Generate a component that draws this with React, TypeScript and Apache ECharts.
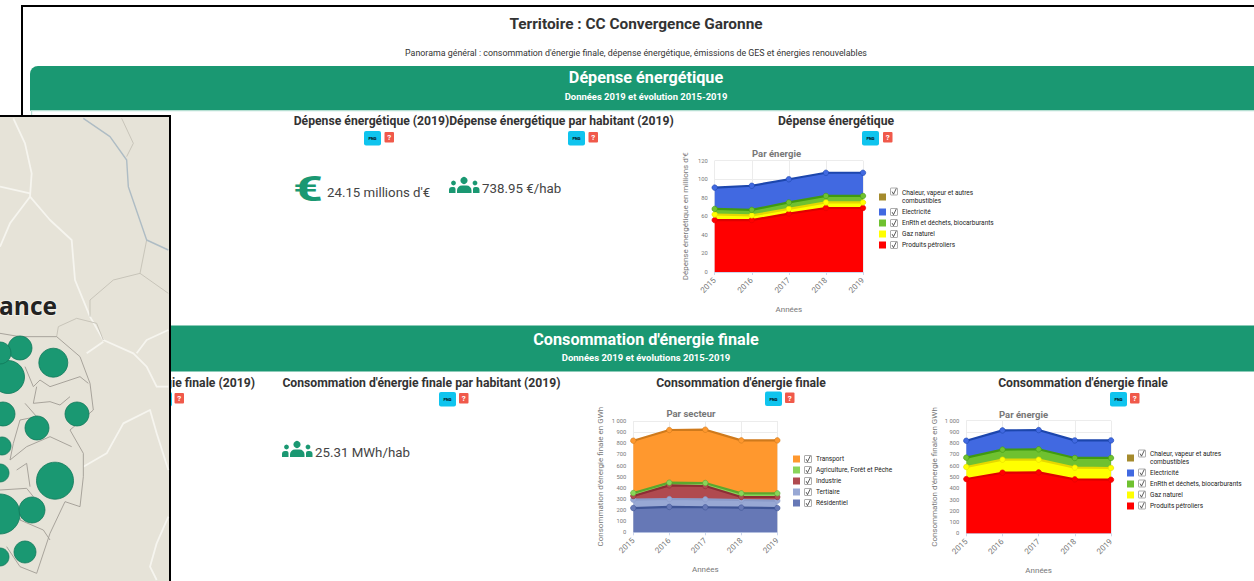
import React, { useEffect, useRef } from "react";
import * as echarts from "echarts";

const years = ["2015", "2016", "2017", "2018", "2019"];
const NAME_HEAT = "Chaleur, vapeur et autres combustibles";
const NAME_ELEC = "Electricité";
const NAME_ENR = "EnRth et déchets, biocarburants";
const NAME_GAS = "Gaz naturel";
const NAME_OIL = "Produits pétroliers";

const costOil = [56, 56, 63, 69, 69];
const costGas = [6, 5, 5, 6, 6];
const costEnr = [6, 6, 7, 7, 7];
const costElec = [23, 26, 25, 25, 25];
const costHeat = [null, null, null, null, null];

const resid = [218, 228, 225, 222, 218];
const tertiary = [75, 71, 71, 68, 66];
const industry = [33, 123, 120, 27, 33];
const agri = [27, 24, 27, 33, 33];
const transport = [470, 473, 479, 476, 476];

const consOil = [482, 538, 541, 479, 476];
const consGas = [107, 116, 113, 104, 104];
const consEnr = [83, 89, 92, 86, 89];
const consElec = [150, 171, 171, 156, 156];
const consHeat = [null, null, null, null, null];

const GREEN = "#1a9872";
const FONT = "Roboto";

const energyPalette: Record<string, [string, string]> = {
  [NAME_OIL]: ["#ff0000", "#e00000"],
  [NAME_GAS]: ["#ffff00", "#e6d800"],
  [NAME_ENR]: ["#6fc130", "#3f9a10"],
  [NAME_ELEC]: ["#4169e1", "#1c46ad"],
  [NAME_HEAT]: ["#a58b2d", "#8a7320"],
};
const sectorPalette: Record<string, [string, string]> = {
  Résidentiel: ["#6678b6", "#3f5596"],
  Tertiaire: ["#98a8d4", "#8b9bc9"],
  Industrie: ["#b04a4f", "#8c2e34"],
  "Agriculture, Forêt et Pêche": ["#8ad45a", "#5ba82e"],
  Transport: ["#ff982e", "#cf7a1c"],
};

function areaSeries(name: string, data: (number | null)[], idx: number, palette: Record<string, [string, string]>) {
  const [fill, line] = palette[name];
  return {
    type: "line",
    name,
    data,
    xAxisIndex: idx,
    yAxisIndex: idx,
    stack: "s" + idx,
    color: fill,
    symbol: "circle",
    symbolSize: 5.5,
    showSymbol: true,
    lineStyle: { color: line, width: 2.2 },
    itemStyle: { color: fill, borderColor: line, borderWidth: 0.6 },
    areaStyle: { color: fill, opacity: 1 },
    emphasis: { disabled: true },
  };
}

const grids = [
  { left: 714.7, top: 160.7, width: 148.3, height: 111.3 },
  { left: 633.3, top: 421, width: 144, height: 111.3 },
  { left: 966.3, top: 420.7, width: 144.7, height: 112.6 },
];

const axisColor = "#777777";

function xAxis(i: number, gap: number) {
  return {
    type: "category",
    gridIndex: i,
    data: years,
    boundaryGap: false,
    name: "Années",
    nameLocation: "middle",
    nameGap: gap,
    nameMoveOverlap: false,
    nameTextStyle: { fontFamily: FONT, fontSize: 8, color: axisColor },
    axisLine: { lineStyle: { color: "#ccd6eb", width: 1 } },
    axisTick: { show: true, length: 3, lineStyle: { color: "#ccd6eb" } },
    axisLabel: { show: true, rotate: 45, fontFamily: FONT, fontSize: 8, color: axisColor, margin: 7 },
    splitLine: { show: true, lineStyle: { color: "#ececec", width: 1 } },
  };
}

function yAxis(i: number, name: string, max: number, interval: number, gap: number) {
  return {
    type: "value",
    gridIndex: i,
    min: 0,
    max,
    interval,
    name,
    nameLocation: "middle",
    nameGap: gap,
    nameRotate: 90,
    nameMoveOverlap: false,
    nameTextStyle: { fontFamily: FONT, fontSize: 8, color: axisColor },
    axisLine: { show: false },
    axisTick: { show: false },
    axisLabel: {
      fontFamily: FONT,
      fontSize: 5.8,
      color: axisColor,
      margin: 7,
      formatter: (v: number) => (v >= 1000 ? "1 000" : String(v)),
    },
    splitLine: { show: true, lineStyle: { color: "#ececec", width: 1 } },
  };
}

function legend(left: number, top: number, names: string[], palette: Record<string, [string, string]>, pad: number) {
  return {
    orient: "vertical",
    left,
    top,
    padding: 0,
    itemWidth: 7,
    itemHeight: 7,
    itemGap: 3,
    icon: "rect",
    selectedMode: false,
    data: names.map((n) => ({ name: n, itemStyle: { color: palette[n][0], borderWidth: 0 } })),
    formatter: (n: string) => (n === NAME_HEAT ? "Chaleur, vapeur et autres\ncombustibles" : n),
    textStyle: { fontFamily: FONT, fontSize: 6.5, lineHeight: 8, color: "#222222", padding: [0, 0, 0, pad] },
  };
}

const chartTitle = (t: string, left: number, top: number) => ({
  text: t,
  left,
  top,
  padding: 0,
  textAlign: "center",
  textStyle: { fontFamily: FONT, fontSize: 9.5, fontWeight: "bold", color: "#777777" },
});

const text = (t: string, x: number, y: number, font: string, fill: string, align = "center", extra: any = {}) => ({
  type: "text",
  x,
  y,
  silent: true,
  style: { text: t, font, fill, textAlign: align, textVerticalAlign: "middle", ...extra },
});

const rect = (x: number, y: number, w: number, h: number, fill: string, r: any = 0, stroke?: string, lw = 0) => ({
  type: "rect",
  silent: true,
  shape: { x, y, width: w, height: h, r },
  style: { fill, stroke, lineWidth: lw },
});

const buttons = (cx: number, cy: number, rx: number) => [
  rect(cx, cy, 17, 14.5, "#0fc4ee", 2),
  text("PNG", cx + 8.5, cy + 7.5, "bold 4px " + FONT, "#000000"),
  rect(rx, cy + 1, 9.5, 10.5, "#f0594a", 1),
  text("?", rx + 4.75, cy + 6.5, "bold 8px " + FONT, "#ffffff"),
];

const people = (x: number, y: number) => [
  { type: "circle", silent: true, shape: { cx: x + 15, cy: y + 3.5, r: 3.6 }, style: { fill: GREEN } },
  { type: "circle", silent: true, shape: { cx: x + 4.5, cy: y + 6, r: 2.4 }, style: { fill: GREEN } },
  { type: "circle", silent: true, shape: { cx: x + 26, cy: y + 6, r: 2.4 }, style: { fill: GREEN } },
  rect(x + 8, y + 8.5, 14.5, 7.5, GREEN, [5, 5, 0, 0]),
  rect(x, y + 10, 6.5, 6, GREEN, [3, 2, 0, 0]),
  rect(x + 24, y + 10, 6.5, 6, GREEN, [2, 3, 0, 0]),
];

const checkbox = (x: number, y: number) => [
  rect(x, y, 7, 7, "#ffffff", 0.5, "#8a8a8a", 0.7),
  {
    type: "polyline",
    silent: true,
    shape: { points: [[x + 1.6, y + 3.6], [x + 3, y + 6.2], [x + 5.8, y + 0.4]] },
    style: { fill: "none", stroke: "#333333", lineWidth: 0.8 },
  },
];

// Background map: coordinates measured on the picture, scaled from a 3x crop.
const m = (pts: number[][]) => pts.map(([a, b]) => [a / 3, b / 3 + 100]);
const line = (pts: number[][], stroke: string, lw: number) => ({
  type: "polyline",
  silent: true,
  shape: { points: m(pts) },
  style: { fill: "none", stroke, lineWidth: lw, lineJoin: "round" },
});
const roads = [
  [[40, 55], [75, 130], [95, 220], [90, 290], [150, 360], [215, 420], [225, 540], [270, 650], [310, 720], [400, 760], [440, 800], [470, 860], [505, 860]],
  [[90, 290], [30, 370], [0, 440]],
  [[0, 260], [90, 280]],
  [[260, 760], [310, 725]],
  [[505, 690], [440, 720], [410, 760]],
  [[250, 1100], [320, 1060], [370, 970], [450, 930], [470, 1000], [505, 1110]],
  [[505, 1250], [470, 1330], [450, 1400], [470, 1440]],
];
const cantonBorders = [
  [[0, 700], [60, 710], [170, 710]],
  [[170, 710], [240, 770], [270, 850], [280, 930], [210, 990], [250, 1060], [250, 1130], [240, 1220], [195, 1205], [150, 1300], [110, 1420], [60, 1400], [20, 1340]],
  [[75, 800], [100, 860], [120, 840], [150, 860], [240, 830], [265, 850]],
  [[110, 860], [100, 910], [150, 905], [180, 915], [210, 890]],
  [[75, 910], [110, 950], [60, 960], [40, 1030], [30, 1080], [80, 1040], [150, 1010], [215, 1040]],
  [[0, 1170], [80, 1165], [100, 1190], [60, 1260], [130, 1290], [150, 1320]],
  [[50, 1110], [80, 1090], [90, 1160]],
];
const faintBorders = [
  [[170, 710], [175, 680], [230, 655], [290, 670], [310, 720]],
  [[420, 520], [340, 540], [270, 600], [270, 650]],
  [[420, 520], [505, 580]],
  [[440, 420], [420, 520]],
  [[365, 55], [400, 130], [380, 170]],
];
const river = [[250, 55], [330, 110], [380, 180], [385, 260], [440, 420], [505, 450]];
const towns: [number, number, number][] = [
  [20, 348, 12], [53.3, 362.7, 14.5], [8, 377, 16.5], [0, 353, 11], [3, 414, 12], [77, 414, 12],
  [37, 428, 12], [2, 446, 9], [0, 473, 9], [55, 480.7, 18.5], [0, 514, 20], [32, 510, 13],
  [25, 552, 11], [0, 557, 9],
];

const legendBoxes = (x: number, ys: number[]) => ys.flatMap((y) => checkbox(x, y));

export default function App() {
  const ref = useRef<HTMLDivElement>(null);
  useEffect(() => {
    document.body.style.margin = "0";
    document.body.style.background = "#ffffff";
    const chart = echarts.init(ref.current!, null, { renderer: "svg" });
    const energyNames = [NAME_HEAT, NAME_ELEC, NAME_ENR, NAME_GAS, NAME_OIL];
    const sectorNames = ["Transport", "Agriculture, Forêt et Pêche", "Industrie", "Tertiaire", "Résidentiel"];
    chart.setOption({
      animation: false,
      backgroundColor: "#ffffff",
      tooltip: { show: false },
      title: [chartTitle("Par énergie", 776.5, 148), chartTitle("Par secteur", 691, 408), chartTitle("Par énergie", 1023.5, 409)],
      grid: grids,
      xAxis: [xAxis(0, 33), xAxis(1, 33), xAxis(2, 33)],
      yAxis: [
        yAxis(0, "Dépense énergétique en millions d'€", 120, 20, 25),
        yAxis(1, "Consommation d'énergie finale en GWh", 1000, 100, 29),
        yAxis(2, "Consommation d'énergie finale en GWh", 1000, 100, 28),
      ],
      legend: [
        legend(879, 189, energyNames, energyPalette, 11),
        legend(793, 455, sectorNames, sectorPalette, 11),
        legend(1127, 450, energyNames, energyPalette, 11),
      ],
      series: [
        areaSeries(NAME_OIL, costOil, 0, energyPalette),
        areaSeries(NAME_GAS, costGas, 0, energyPalette),
        areaSeries(NAME_ENR, costEnr, 0, energyPalette),
        areaSeries(NAME_ELEC, costElec, 0, energyPalette),
        areaSeries(NAME_HEAT, costHeat, 0, energyPalette),
        areaSeries("Résidentiel", resid, 1, sectorPalette),
        areaSeries("Tertiaire", tertiary, 1, sectorPalette),
        areaSeries("Industrie", industry, 1, sectorPalette),
        areaSeries("Agriculture, Forêt et Pêche", agri, 1, sectorPalette),
        areaSeries("Transport", transport, 1, sectorPalette),
        areaSeries(NAME_OIL, consOil, 2, energyPalette),
        areaSeries(NAME_GAS, consGas, 2, energyPalette),
        areaSeries(NAME_ENR, consEnr, 2, energyPalette),
        areaSeries(NAME_ELEC, consElec, 2, energyPalette),
        areaSeries(NAME_HEAT, consHeat, 2, energyPalette),
      ],
      graphic: [
        // Page frame
        rect(21, 5, 1240, 2, "#000000"),
        rect(21, 5, 2, 120, "#000000"),
        text("Territoire : CC Convergence Garonne", 636, 24, "bold 15.4px " + FONT, "#333333"),
        text("Panorama général : consommation d'énergie finale, dépense énergétique, émissions de GES et énergies renouvelables", 636, 53, "8.86px " + FONT, "#333333"),
        // Section 1
        rect(30, 66, 1240, 44.5, GREEN, [8, 8, 0, 0]),
        rect(31, 110, 1230, 1.2, "#b5dfd2"),
        rect(31, 110, 1.2, 10, "#b5dfd2"),
        text("Dépense énergétique", 646, 77.5, "bold 16.2px " + FONT, "#ffffff"),
        text("Données 2019 et évolution 2015-2019", 646, 96, "bold 9.45px " + FONT, "#ffffff"),
        text("Dépense énergétique (2019)", 371.5, 120.5, "bold 12.2px " + FONT, "#333333"),
        text("Dépense énergétique par habitant (2019)", 561.5, 120.5, "bold 12.2px " + FONT, "#333333"),
        text("Dépense énergétique", 836, 120.5, "bold 12.2px " + FONT, "#333333"),
        ...buttons(364, 131, 384.5),
        ...buttons(568, 131, 588.5),
        ...buttons(862, 131, 883),
        { ...text("€", 308, 188.5, "bold 36px " + FONT, GREEN), scaleX: 1.45 },
        text("24.15 millions d'€", 327, 192.5, "13.25px " + FONT, "#444444", "left"),
        ...people(449, 177),
        text("738.95 €/hab", 482, 188.5, "13.3px " + FONT, "#444444", "left"),
        // Section 2
        rect(30, 325.5, 1240, 46, GREEN),
        text("Consommation d'énergie finale", 646, 339, "bold 16.2px " + FONT, "#ffffff"),
        text("Données 2019 et évolutions 2015-2019", 646, 357, "bold 9.5px " + FONT, "#ffffff"),
        text("Consommation d'énergie finale (2019)", 255, 382.5, "bold 12.2px " + FONT, "#333333", "right"),
        text("Consommation d'énergie finale par habitant (2019)", 421.5, 382.5, "bold 12.2px " + FONT, "#333333"),
        text("Consommation d'énergie finale", 741, 382.5, "bold 12.2px " + FONT, "#333333"),
        text("Consommation d'énergie finale", 1083, 382.5, "bold 12.2px " + FONT, "#333333"),
        ...buttons(155, 392, 174.5),
        ...buttons(439, 392, 459),
        ...buttons(765, 391.5, 785),
        ...buttons(1110, 392, 1130),
        ...people(282, 441),
        text("25.31 MWh/hab", 315, 452.5, "13.3px " + FONT, "#444444", "left"),
        // Legend check boxes
        ...legendBoxes(890.5, [188, 208.5, 219.5, 230.5, 241.5]),
        ...legendBoxes(804.5, [455.5, 466.5, 477.5, 488.5, 499.5]),
        ...legendBoxes(1138.5, [450, 469, 480, 491, 502]),
        // Map inset
        rect(-2, 116, 172, 470, "#e6e3d8", 0, "#000000", 2),
        ...roads.map((r) => line(r, "#f6f5ef", 1.8)),
        ...faintBorders.map((b) => line(b, "#c4c1b6", 0.9)),
        ...cantonBorders.map((b) => line(b, "#a09c94", 0.9)),
        line(river, "#aebcc4", 1.4),
        text("ance", -1, 305, "bold 24.5px 'Open Sans'", "#222222", "left", { stroke: "#f2f0e8", lineWidth: 2 }),
        ...towns.map(([cx, cy, r]) => ({
          type: "circle",
          silent: true,
          shape: { cx, cy, r },
          style: { fill: GREEN, stroke: "#12795a", lineWidth: 0.8 },
        })),
      ],
    });
    return () => chart.dispose();
  }, []);
  return <div ref={ref} style={{ width: 1254, height: 581 }} />;
}
